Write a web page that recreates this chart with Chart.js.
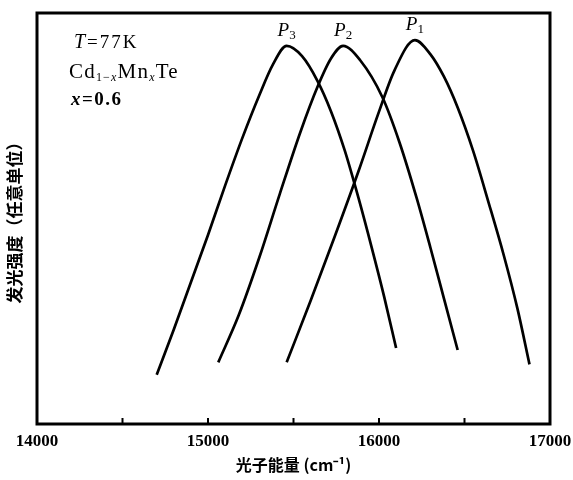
<!DOCTYPE html>
<html>
<head>
<meta charset="utf-8">
<script src="https://cdn.jsdelivr.net/npm/chart.js@4"></script>
<style>
  html, body { margin: 0; padding: 0; background: #fff; }
  #wrap { width: 573px; height: 480px; }
</style>
</head>
<body>
<div id="wrap"><canvas id="chart"></canvas></div>
<script>
// photon energy (cm^-1) and luminescence intensity (arb. units)
const energyP1 = [15460, 15600, 15740, 15880, 16000, 16090, 16210, 16300, 16380, 16460, 16550, 16640, 16730, 16810, 16880];
const intensityP1 = [15, 30, 45.5, 61.5, 76, 86, 93.4, 90, 84.5, 77, 66.5, 54, 41, 28, 14.5];

const energyP2 = [15060, 15180, 15300, 15420, 15540, 15640, 15720, 15790, 15890, 16020, 16120, 16220, 16300, 16380, 16460];
const intensityP2 = [15, 26.5, 40.5, 56, 71, 82, 89, 92, 88.5, 79.5, 68.5, 55, 43, 30.5, 18];

const energyP3 = [14700, 14800, 14900, 15000, 15100, 15200, 15300, 15380, 15460, 15550, 15640, 15720, 15800, 15880, 15960, 16030, 16100];
const intensityP3 = [12, 23, 34.5, 46, 58, 69.5, 80, 87.5, 92, 89.5, 83.5, 76, 66.5, 55, 42.5, 31, 18.5];

const peakNames = ['1', '2', '3'];
const xTickLabels = [14000, 15000, 16000, 17000];

const serif = '"Liberation Serif", "DejaVu Serif", serif';
const cjk = '"Noto Sans CJK SC", sans-serif';

function toPoints(xs, ys) {
  return xs.map((x, i) => ({ x: x, y: ys[i] }));
}

function makeSet(name, xs, ys) {
  return {
    label: 'P' + name,
    data: toPoints(xs, ys),
    borderColor: '#000',
    borderWidth: 2.7,
    pointRadius: 0,
    fill: false,
    cubicInterpolationMode: 'monotone',
  };
}

// draw text pieces one after another (for sub/superscripts and italics)
function drawRuns(ctx, x, y, runs, center, spacing) {
  ctx.letterSpacing = (spacing || 0) + 'px';
  let total = 0;
  runs.forEach(r => {
    ctx.font = (r.italic ? 'italic ' : '') + (r.bold ? 'bold ' : '') + r.size + 'px ' + serif;
    r.w = ctx.measureText(r.t).width;
    total += r.w;
  });
  let cx = center ? x - total / 2 : x;
  runs.forEach(r => {
    ctx.font = (r.italic ? 'italic ' : '') + (r.bold ? 'bold ' : '') + r.size + 'px ' + serif;
    ctx.fillText(r.t, cx, y + (r.dy || 0));
    cx += r.w;
  });
  ctx.letterSpacing = '0px';
}

const framePlugin = {
  id: 'frame',
  afterDraw(chart) {
    const { ctx, chartArea: a, scales } = chart;
    ctx.save();
    ctx.strokeStyle = '#000';
    ctx.lineWidth = 3;
    ctx.strokeRect(a.left, a.top, a.right - a.left, a.bottom - a.top);

    // inward tick marks every 500
    ctx.lineWidth = 2;
    scales.x.ticks.forEach(t => {
      if (t.value <= scales.x.min || t.value >= scales.x.max) return;
      const px = scales.x.getPixelForValue(t.value);
      ctx.beginPath();
      ctx.moveTo(px, a.bottom);
      ctx.lineTo(px, a.bottom - 6);
      ctx.stroke();
    });

    ctx.fillStyle = '#000';
    ctx.textBaseline = 'alphabetic';
    ctx.textAlign = 'left';
    drawRuns(ctx, a.left + 37, a.top + 35, [
      { t: 'T', size: 20, italic: true },
      { t: '=77K', size: 19 },
    ], false, 2);
    drawRuns(ctx, a.left + 32, a.top + 65, [
      { t: 'Cd', size: 21 },
      { t: '1\u2212', size: 12, dy: 3 },
      { t: 'x', size: 12, dy: 3, italic: true },
      { t: 'Mn', size: 21 },
      { t: 'x', size: 12, dy: 3, italic: true },
      { t: 'Te', size: 21 },
    ], false, 1.2);
    drawRuns(ctx, a.left + 34, a.top + 92, [
      { t: 'x', size: 19, italic: true, bold: true },
      { t: '=0.6', size: 19, bold: true },
    ], false, 1.5);

    // peak labels above each curve
    const sets = [[energyP1, intensityP1], [energyP2, intensityP2], [energyP3, intensityP3]];
    sets.forEach((s, i) => {
      const top = Math.max(...s[1]);
      const e = s[0][s[1].indexOf(top)];
      const px = scales.x.getPixelForValue(e);
      const py = scales.y.getPixelForValue(top);
      drawRuns(ctx, px, py - 10, [
        { t: 'P', size: 19, italic: true },
        { t: peakNames[i], size: 13, dy: 3 },
      ], true);
    });
    ctx.restore();
  }
};

new Chart(document.getElementById('chart'), {
  type: 'line',
  data: {
    datasets: [
      makeSet('1', energyP1, intensityP1),
      makeSet('2', energyP2, intensityP2),
      makeSet('3', energyP3, intensityP3),
    ],
  },
  options: {
    responsive: true,
    maintainAspectRatio: false,
    animation: false,
    layout: { padding: { top: 13, right: 23, left: 0, bottom: 0 } },
    plugins: {
      legend: { display: false },
      tooltip: { enabled: false },
    },
    scales: {
      x: {
        type: 'linear',
        min: 14000,
        max: 17000,
        grid: { display: false, drawTicks: false },
        border: { display: false },
        ticks: {
          stepSize: 500,
          padding: 7,
          color: '#000',
          maxRotation: 0,
          autoSkip: false,
          font: { family: serif, size: 17, weight: 'bold' },
          callback: v => xTickLabels.includes(v) ? String(v) : '',
        },
        title: {
          display: true,
          text: '光子能量 (cm⁻¹)',
          color: '#000',
          font: { family: cjk, size: 16, weight: 'bold' },
          padding: { top: 0, bottom: 5 },
        },
        afterFit: scale => {
          scale.height = 56;
          scale.paddingLeft = 0;
          scale.paddingRight = 0;
        },
      },
      y: {
        min: 0,
        max: 100,
        grid: { display: false, drawTicks: false },
        border: { display: false },
        ticks: { display: false },
        title: {
          display: true,
          text: '发光强度（任意单位）',
          color: '#000',
          font: { family: cjk, size: 17, weight: 'bold' },
          padding: { top: 4, bottom: 0 },
        },
        afterFit: scale => { scale.width = 37; },
      },
    },
  },
  plugins: [framePlugin],
});
</script>
</body>
</html>
